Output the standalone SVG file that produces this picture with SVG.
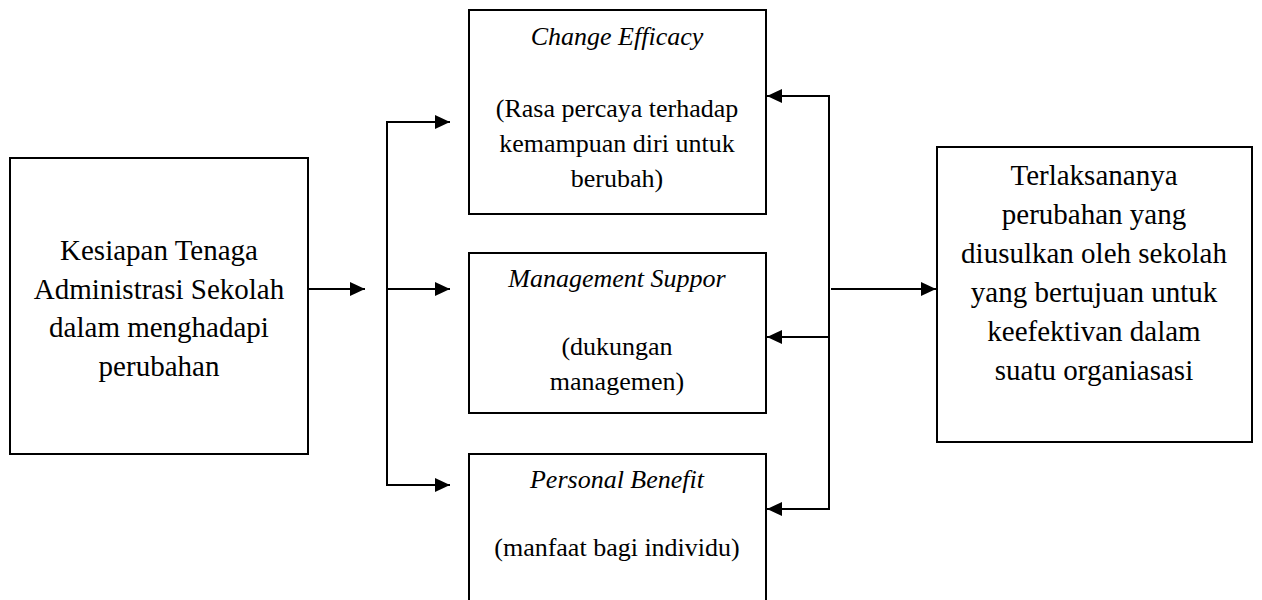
<svg xmlns="http://www.w3.org/2000/svg" width="1262" height="600" viewBox="0 0 1262 600">
<style>
.box{fill:#fff;stroke:#000;stroke-width:2}
.t{font-family:"Liberation Serif","Times New Roman",serif;fill:#000;text-anchor:middle}
.big{font-size:29px}
.sm{font-size:26px}
.it{font-style:italic}
.c{fill:none;stroke:#000;stroke-width:2}
</style>
<defs>
<marker id="ah" markerUnits="userSpaceOnUse" markerWidth="16" markerHeight="14" refX="15" refY="7" orient="auto">
<path d="M0,0 L15,7 L0,14 z" fill="#000"/>
</marker>
</defs>
<g id="node-kesiapan">
<rect class="box" x="10" y="158" width="298" height="296"/>
<text class="t big" x="159" y="260">Kesiapan Tenaga</text>
<text class="t big" x="159" y="298.5">Administrasi Sekolah</text>
<text class="t big" x="159" y="337">dalam menghadapi</text>
<text class="t big" x="159" y="375.5">perubahan</text>
</g>
<g id="node-change-efficacy">
<rect class="box" x="469" y="10" width="297" height="204"/>
<text class="t sm it" x="617" y="45">Change Efficacy</text>
<text class="t sm" x="617" y="117">(Rasa percaya terhadap</text>
<text class="t sm" x="617" y="152">kemampuan diri untuk</text>
<text class="t sm" x="617" y="187">berubah)</text>
</g>
<g id="node-management-support">
<rect class="box" x="469" y="253" width="297" height="160"/>
<text class="t sm it" x="617" y="287">Management Suppor</text>
<text class="t sm" x="617" y="355">(dukungan</text>
<text class="t sm" x="617" y="390">managemen)</text>
</g>
<g id="node-personal-benefit">
<rect class="box" x="469" y="454" width="297" height="160"/>
<text class="t sm it" x="617" y="488">Personal Benefit</text>
<text class="t sm" x="617" y="556">(manfaat bagi individu)</text>
</g>
<g id="node-terlaksananya">
<rect class="box" x="937" y="147" width="315" height="295"/>
<text class="t big" x="1094" y="185">Terlaksananya</text>
<text class="t big" x="1094" y="224">perubahan yang</text>
<text class="t big" x="1094" y="263">diusulkan oleh sekolah</text>
<text class="t big" x="1094" y="302">yang bertujuan untuk</text>
<text class="t big" x="1094" y="341">keefektivan dalam</text>
<text class="t big" x="1094" y="380">suatu organiasasi</text>
</g>
<g id="connectors">
<line class="c" x1="308" y1="289" x2="365" y2="289" marker-end="url(#ah)"/>
<line class="c" x1="387" y1="121" x2="387" y2="486"/>
<line class="c" x1="386" y1="122" x2="450" y2="122" marker-end="url(#ah)"/>
<line class="c" x1="387" y1="289" x2="450" y2="289" marker-end="url(#ah)"/>
<line class="c" x1="386" y1="485" x2="450" y2="485" marker-end="url(#ah)"/>
<line class="c" x1="829" y1="95" x2="829" y2="510"/>
<line class="c" x1="830" y1="96" x2="767" y2="96" marker-end="url(#ah)"/>
<line class="c" x1="829" y1="337" x2="767" y2="337" marker-end="url(#ah)"/>
<line class="c" x1="830" y1="509" x2="767" y2="509" marker-end="url(#ah)"/>
<line class="c" x1="831" y1="289" x2="936" y2="289" marker-end="url(#ah)"/>
</g>
</svg>
